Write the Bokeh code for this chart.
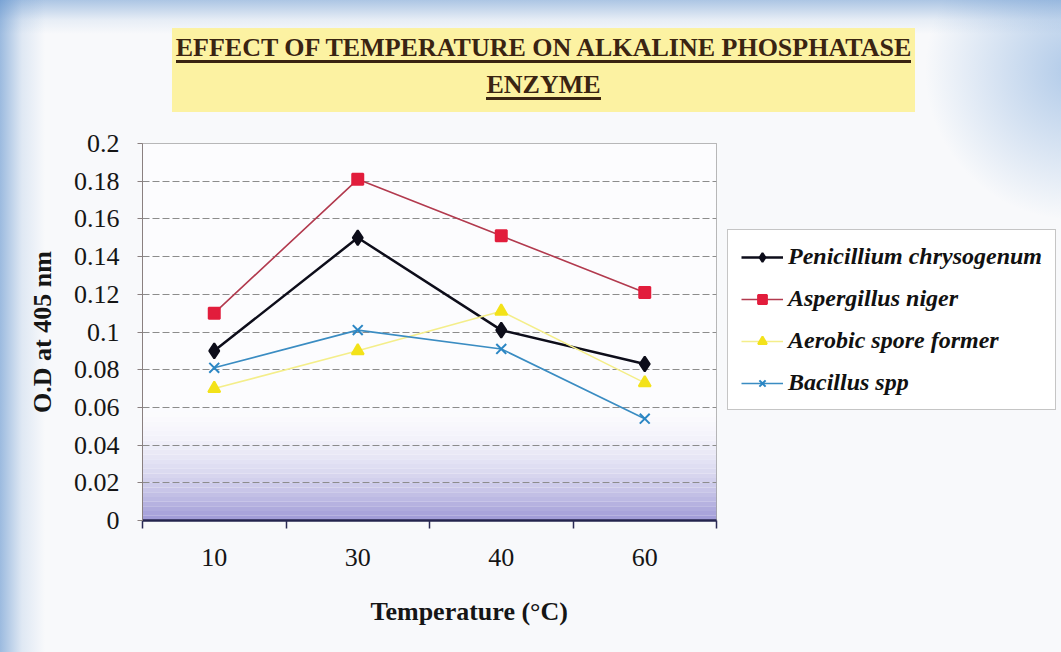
from bokeh.plotting import figure
from bokeh.layouts import column
from bokeh.models import (Range1d, FixedTicker, Legend, LegendItem, Title,
                          BoxAnnotation, Div)
from bokeh.embed import file_html
from bokeh.resources import INLINE

# ---- data -------------------------------------------------------------
temperatures = ["10", "30", "40", "60"]
penicillium = [0.090, 0.150, 0.101, 0.083]
aspergillus = [0.110, 0.181, 0.151, 0.121]
aerobic = [0.070, 0.090, 0.111, 0.073]
bacillus = [0.081, 0.101, 0.091, 0.054]

y_ticks = [0.0, 0.02, 0.04, 0.06, 0.08, 0.1, 0.12, 0.14, 0.16, 0.18, 0.2]
y_tick_labels = ["0", "0.02", "0.04", "0.06", "0.08", "0.1", "0.12",
                 "0.14", "0.16", "0.18", "0.2"]

title_lines = ["EFFECT OF TEMPERATURE ON ALKALINE PHOSPHATASE", "ENZYME"]
x_title = "Temperature (°C)"

SERIF = "Liberation Serif"
INK = "#151515"

# paper tone with a bluish tint along the edges
PAGE_BG = ("linear-gradient(to right, rgba(80,135,200,0.55) 0px, rgba(80,135,200,0.15) 22px, "
           "rgba(80,135,200,0) 45px), "
           "linear-gradient(to bottom, rgba(80,135,200,0.45) 0px, rgba(80,135,200,0.1) 20px, "
           "rgba(80,135,200,0) 34px), "
           "radial-gradient(circle at 1075px 70px, rgba(90,145,210,0.45) 0px, "
           "rgba(90,145,210,0) 150px), "
           "#f8f9fb")

# ---- heading ------------------------------------------------------------
def heading_line(text, top):
    return ('<div style="position:absolute; left:0; right:0; top:%dpx; height:30px; '
            'text-align:center; line-height:30px;">'
            '<span style="display:inline-block; height:30px; line-height:30px; '
            'border-bottom:3px solid #3a2412;">%s</span></div>' % (top, text))

heading_html = (
    '<div style="position:absolute; left:172px; top:28px; width:743px; height:84px; '
    'background:#fcf2a2; font-family:\'Liberation Serif\'; font-weight:bold; '
    'font-size:26px; color:#3a2412;">' + heading_line(title_lines[0], 5)
    + heading_line(title_lines[1], 42) + '</div>'
)
heading = Div(text=heading_html, width=1061, height=115, margin=0,
              styles={"position": "relative"})

# ---- figure -----------------------------------------------------------
n = len(temperatures)
xs = [i + 0.5 for i in range(n)]          # category centres
bounds = list(range(n + 1))               # category boundaries

p = figure(width=1061, height=537, frame_width=574, frame_height=377,
           x_range=Range1d(0, n), y_range=Range1d(0, 0.2),
           output_backend="svg", toolbar_location=None,
           min_border_left=142, min_border_right=0,
           min_border_top=28, min_border_bottom=132,
           background_fill_color="#fcfcfe",
           border_fill_alpha=0,
           outline_line_color="#a0a0a0", outline_line_width=1)
p.margin = 0

# plot-area shading: lavender along the bottom fading up to white
steps = 80
top_rgb = (252, 252, 254)
bot_rgb = (158, 153, 214)
for k in range(steps):
    y0 = 0.2 * k / steps
    y1 = 0.2 * (k + 1) / steps
    t = (k + 0.5) / steps
    w = max(0.0, 1.0 - t / 0.32) ** 2.0
    c = tuple(int(round(a * (1 - w) + b * w)) for a, b in zip(top_rgb, bot_rgb))
    p.add_layout(BoxAnnotation(bottom=y0, top=y1, fill_color="#%02x%02x%02x" % c,
                               fill_alpha=1.0, line_alpha=0, level="image"))

# x axis: labels at category centres, tick marks at the boundaries
xa = p.xaxis[0]
xa.ticker = FixedTicker(ticks=xs, minor_ticks=bounds)
xa.major_label_overrides = {x: t for x, t in zip(xs, temperatures)}
xa.major_tick_out = 0
xa.major_tick_in = 0
xa.minor_tick_out = 8
xa.minor_tick_in = 0
xa.minor_tick_line_color = "#2a2a55"
xa.minor_tick_line_width = 1.5
xa.axis_line_color = "#24244e"
xa.axis_line_width = 2.5
xa.major_label_standoff = 20
xa.major_label_text_font = SERIF
xa.major_label_text_font_size = "26px"
xa.major_label_text_color = INK

# y axis
ya = p.yaxis[0]
ya.ticker = FixedTicker(ticks=y_ticks, minor_ticks=[])
ya.major_label_overrides = {v: s for v, s in zip(y_ticks, y_tick_labels)}
ya.major_tick_out = 5
ya.major_tick_in = 0
ya.major_tick_line_color = "#8a8080"
ya.axis_line_color = "#8a8080"
ya.axis_line_width = 1
ya.major_label_standoff = 18
ya.major_label_text_font = SERIF
ya.major_label_text_font_size = "26px"
ya.major_label_text_color = INK
ya.axis_label = "O.D at 405 nm"
ya.axis_label_text_font = SERIF
ya.axis_label_text_font_style = "bold"
ya.axis_label_text_font_size = "26px"
ya.axis_label_text_color = INK
ya.axis_label_standoff = 14

p.xgrid.visible = False
p.ygrid.ticker = FixedTicker(ticks=y_ticks)
p.ygrid.grid_line_color = "#8c8c8c"
p.ygrid.grid_line_dash = "7 3"
p.ygrid.grid_line_width = 1

# x axis title, set right of the frame centre
p.add_layout(Title(text=x_title, align="left", offset=228,
                   standoff=53, text_font=SERIF, text_font_style="bold",
                   text_font_size="26px", text_color=INK), "below")

# ---- series -----------------------------------------------------------
series = [
    ("Penicillium chrysogenum", penicillium, "#0d0d1a", 2.5, "diamond", "#0d0d1a", 15),
    ("Aspergillus niger", aspergillus, "#b23a4e", 1.6, "square", "#e21d3c", 11),
    ("Aerobic spore former", aerobic, "#f4ee8a", 1.6, "triangle", "#f3e21a", 12),
    ("Bacillus spp", bacillus, "#3a8cc2", 1.6, "x", "#2b86c4", 14),
]

items = []
for name, vals, lcol, lw, marker, mcol, size in series:
    r_line = p.line(xs, vals, line_color=lcol, line_width=lw)
    r_mark = p.scatter(xs, vals, marker=marker, size=size,
                       fill_color=mcol, line_color=mcol, line_width=2)
    items.append(LegendItem(label=name, renderers=[r_line, r_mark]))

legend = Legend(items=items, location=(11, 110), margin=0,
                label_text_font=SERIF, label_text_font_style="bold italic",
                label_text_font_size="24px", label_text_color="#111111",
                glyph_width=42, glyph_height=22, label_standoff=5,
                spacing=15, padding=13,
                border_line_color="#8c8c8c", border_line_width=1,
                background_fill_color="#ffffff", background_fill_alpha=1.0)
p.add_layout(legend, "right")

page = column(heading, p, spacing=0, margin=0,
              styles={"background": PAGE_BG})
open("out.html", "w").write(file_html(page, INLINE))
